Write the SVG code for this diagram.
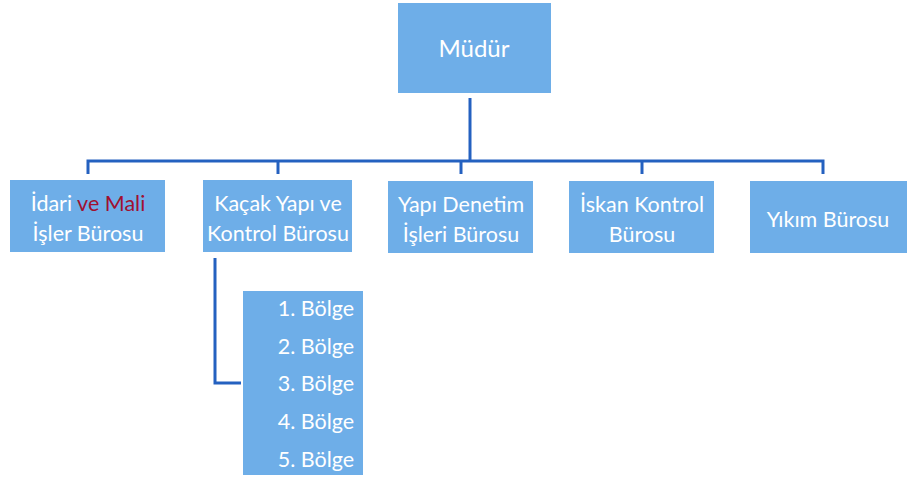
<svg xmlns="http://www.w3.org/2000/svg" width="916" height="479" viewBox="0 0 916 479">
<style>
.box{fill:#6eaee8;}
.t{font-family:Lato,"Open Sans","Liberation Sans",sans-serif;font-size:21.5px;fill:#ffffff;text-anchor:middle;}
.big{font-size:24px;}
.red{fill:#a01030;}
.c{stroke:#2461c0;stroke-width:3;fill:none;}
</style>
<rect width="916" height="479" fill="#ffffff"/>
<g id="connectors">
<path class="c" d="M470 98 V161"/>
<path class="c" d="M88 174 V161 H823 V174"/>
<path class="c" d="M278 161 V174"/>
<path class="c" d="M461 161 V174"/>
<path class="c" d="M642 161 V174"/>
<path class="c" d="M215 258 V383 H241"/>
</g>
<g id="mudur"><rect class="box" x="398" y="3" width="153" height="90"/><text class="t big" x="474" y="57">Müdür</text></g>
<g id="idari"><rect class="box" x="10" y="180" width="155" height="72"/><text class="t" x="88" y="211">İdari <tspan class="red">ve Mali</tspan></text><text class="t" x="88" y="241">İşler Bürosu</text></g>
<g id="kacak"><rect class="box" x="203" y="180" width="149" height="72"/><text class="t" x="278" y="211">Kaçak Yapı ve</text><text class="t" x="278" y="241">Kontrol Bürosu</text></g>
<g id="yapi"><rect class="box" x="388" y="181" width="145" height="72"/><text class="t" x="461" y="212">Yapı Denetim</text><text class="t" x="461" y="242">İşleri Bürosu</text></g>
<g id="iskan"><rect class="box" x="569" y="181" width="145" height="72"/><text class="t" x="642" y="212">İskan Kontrol</text><text class="t" x="642" y="242">Bürosu</text></g>
<g id="yikim"><rect class="box" x="750" y="181" width="157" height="72"/><text class="t" x="828" y="227">Yıkım Bürosu</text></g>
<g id="bolge"><rect class="box" x="243" y="291" width="120" height="184"/>
<text class="t" x="316" y="316">1.  Bölge</text>
<text class="t" x="316" y="354">2. Bölge</text>
<text class="t" x="316" y="391">3. Bölge</text>
<text class="t" x="316" y="429">4. Bölge</text>
<text class="t" x="316" y="467">5. Bölge</text></g>
</svg>
